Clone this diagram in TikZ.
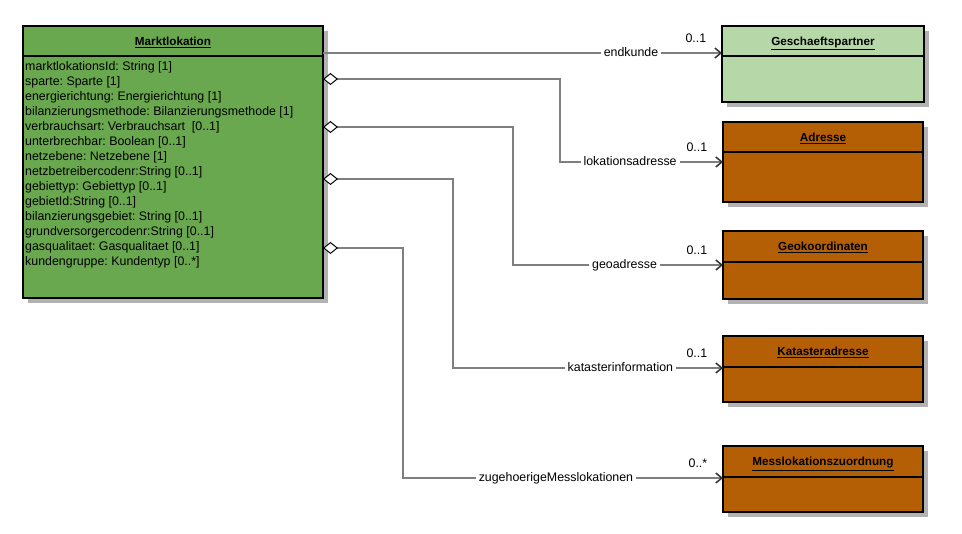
\documentclass[tikz,border=0pt]{standalone}
\usepackage{fontspec}
\setmainfont{Liberation Sans}
\usetikzlibrary{positioning,arrows.meta,shadows}
\definecolor{mlgreen}{HTML}{6AA84F}
\definecolor{gpgreen}{HTML}{B6D7A8}
\definecolor{klbrown}{HTML}{B45F06}
\definecolor{linegray}{HTML}{7F7F7F}
\frenchspacing

\begin{document}
\begin{tikzpicture}[x=1pt, y=-1pt]
  \tikzstyle{head} = [rectangle, draw, line width=2pt, outer sep=0pt, inner sep=0pt, anchor=north west, minimum height=30pt, text height=9pt, text depth=0pt, font=\fontsize{11.7}{14}\selectfont\bfseries, drop shadow={shadow xshift=5pt, shadow yshift=-5pt, fill=black!30, opacity=1}]
  \tikzstyle{body} = [rectangle, draw, line width=2pt, outer sep=0pt, inner sep=0pt, drop shadow={shadow xshift=5pt, shadow yshift=-5pt, fill=black!30, opacity=1}]
  \tikzstyle{attr} = [inner sep=0pt, align=left, font=\fontsize{12.4}{15}\selectfont\frenchspacing]
  \tikzstyle{assoc} = [draw=linegray, line width=1.5pt, -{Straight Barb[length=6pt, width=10pt, color=black!80, line width=1.5pt]}]
  \tikzstyle{aggr} = [assoc, {Diamond[length=15pt, width=12pt, fill=white, color=black, line width=1pt]}-{Straight Barb[length=6pt, width=10pt, color=black!80, line width=1.5pt]}]
  \tikzstyle{lbl} = [fill=white, inner xsep=3pt, inner ysep=0pt, text height=9pt, text depth=2.5pt, font=\fontsize{12.4}{15}\selectfont]
  \tikzstyle{mult} = [anchor=south east, inner sep=0pt, xshift=-15pt, yshift=10pt, font=\fontsize{12.4}{15}\selectfont]

  \useasboundingbox (0,0) rectangle (962,534);

  % classes
  \node [head, fill=mlgreen, minimum width=300pt] (mlh) at (23,26) {\underline{Marktlokation}};
  \node [body, fill=mlgreen, minimum width=300pt, minimum height=242pt, below=0pt of mlh] (mlb) {};
  \node [attr, anchor=north west] (mlattr) at ([xshift=2pt, yshift=-5.5pt]mlb.north west) {marktlokationsId: String [1]\\
    sparte: Sparte [1]\\
    energierichtung: Energierichtung [1]\\
    bilanzierungsmethode: Bilanzierungsmethode [1]\\
    verbrauchsart: Verbrauchsart\ \ [0..1]\\
    unterbrechbar: Boolean [0..1]\\
    netzebene: Netzebene [1]\\
    netzbetreibercodenr:String [0..1]\\
    gebiettyp: Gebiettyp [0..1]\\
    gebietId:String [0..1]\\
    bilanzierungsgebiet: String [0..1]\\
    grundversorgercodenr:String [0..1]\\
    gasqualitaet: Gasqualitaet [0..1]\\
    kundengruppe: Kundentyp [0..*]};

  \node [head, fill=gpgreen, minimum width=202pt] (gph) at (722,26) {\underline{Geschaeftspartner}};
  \node [body, fill=gpgreen, minimum width=202pt, minimum height=46pt, below=0pt of gph] (gpb) {};
  \node [head, fill=klbrown, minimum width=200pt] (adrh) at (723,122) {\underline{Adresse}};
  \node [body, fill=klbrown, minimum width=200pt, minimum height=50pt, below=0pt of adrh] (adrb) {};
  \node [head, fill=klbrown, minimum width=200pt, minimum height=31pt] (geoh) at (723,231) {\underline{Geokoordinaten}};
  \node [body, fill=klbrown, minimum width=200pt, minimum height=37pt, below=0pt of geoh] (geob) {};
  \node [head, fill=klbrown, minimum width=200pt, minimum height=31pt] (kath) at (723,336) {\underline{Katasteradresse}};
  \node [body, fill=klbrown, minimum width=200pt, minimum height=35pt, below=0pt of kath] (katb) {};
  \node [head, fill=klbrown, minimum width=200pt, minimum height=31pt] (melh) at (723,446) {\underline{Messlokationszuordnung}};
  \node [body, fill=klbrown, minimum width=200pt, minimum height=35pt, below=0pt of melh] (melb) {};

  % bends
  \coordinate (k1) at (600,53);
  \coordinate (k2) at (560,79);  \coordinate (h2) at (560,162);
  \coordinate (k3) at (513,127); \coordinate (h3) at (513,265);
  \coordinate (k4) at (453,179); \coordinate (h4) at (453,368);
  \coordinate (k5) at (403,248); \coordinate (h5) at (403,478);

  % associations
  \draw[assoc] (mlh.east |- k1) -- (k1 -| gph.west) node[lbl, pos=.772] {endkunde} node[mult, pos=1] {0..1};
  \draw[aggr] (mlb.east |- k2) -- (k2) -- (h2) -- (h2 -| adrb.west) node[lbl, pos=.43] {lokationsadresse} node[mult, pos=1] {0..1};
  \draw[aggr] (mlb.east |- k3) -- (k3) -- (h3) -- (h3 -| geob.west) node[lbl, pos=.531] {geoadresse} node[mult, pos=1] {0..1};
  \draw[aggr] (mlb.east |- k4) -- (k4) -- (h4) -- (h4 -| katb.west) node[lbl, pos=.62] {katasterinformation} node[mult, pos=1] {0..1};
  \draw[aggr] (mlb.east |- k5) -- (k5) -- (h5) -- (h5 -| melb.west) node[lbl, pos=.478] {zugehoerigeMesslokationen} node[mult, pos=1] {0..*};
\end{tikzpicture}
\end{document}
